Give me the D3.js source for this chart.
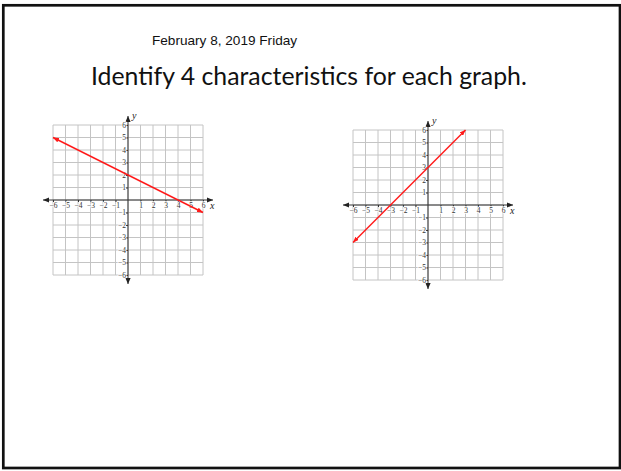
<!DOCTYPE html>
<html>
<head>
<meta charset="utf-8">
<script src="https://cdn.jsdelivr.net/npm/d3@7"></script>
<style>
  body { margin: 0; background: #fff; }
</style>
</head>
<body>
<div id="slide"></div>
<script>
var dateText = "February 8, 2019 Friday";
var titleText = "Identify 4 characteristics for each graph.";

// grid lines and tick labels of both coordinate planes
var gridValues = [-6, -5, -4, -3, -2, -1, 0, 1, 2, 3, 4, 5, 6];
var tickValues = [-6, -5, -4, -3, -2, -1, 1, 2, 3, 4, 5, 6];

// the red line segments (end points, with arrows)
var line1 = [{x: -6, y: 5}, {x: 6, y: -1}];
var line2 = [{x: -6, y: -3}, {x: 3, y: 6}];

var width = 621, height = 471;

var svg = d3.select("#slide").append("svg")
    .attr("width", width)
    .attr("height", height);

// slide frame
svg.append("rect")
    .attr("x", 3.3).attr("y", 5.3)
    .attr("width", 616.7).attr("height", 462.7)
    .attr("fill", "none")
    .attr("stroke", "#111")
    .attr("stroke-width", 2.7);

var defs = svg.append("defs");
function addArrow(id, color, len, half) {
  defs.append("marker")
      .attr("id", id)
      .attr("viewBox", "0 0 " + len + " " + (2 * half))
      .attr("refX", len).attr("refY", half)
      .attr("markerUnits", "userSpaceOnUse")
      .attr("markerWidth", len).attr("markerHeight", 2 * half)
      .attr("orient", "auto-start-reverse")
    .append("path")
      .attr("d", "M0,0L" + len + "," + half + "L0," + (2 * half) + "Z")
      .attr("fill", color);
}
addArrow("axisArrow", "#222", 6, 2.6);
addArrow("redArrow", "#ff1a1a", 6, 2.4);

svg.append("text")
    .attr("x", 152).attr("y", 44.5)
    .style("font-family", "'Liberation Sans', Arial, sans-serif")
    .style("font-size", "13.6px")
    .attr("fill", "#111")
    .text(dateText);

var title = svg.append("text")
    .attr("x", 91).attr("y", 85)
    .style("font-family", "Lato, 'Open Sans', sans-serif")
    .style("font-size", "24px")
    .attr("fill", "#111")
    .text(titleText);
// fit the title to the width it has on the slide
var tl = title.node().getComputedTextLength();
title.style("font-size", (24 * 436 / tl) + "px");

function drawGraph(left, top, pts) {
  var size = 150;
  var x = d3.scaleLinear().domain([-6, 6]).range([left, left + size]);
  var y = d3.scaleLinear().domain([-6, 6]).range([top + size, top]);
  var g = svg.append("g");

  g.selectAll(".vgrid")
      .data(gridValues)
    .enter().append("line")
      .attr("class", "vgrid")
      .attr("x1", function(d) { return x(d); })
      .attr("x2", function(d) { return x(d); })
      .attr("y1", y(-6)).attr("y2", y(6))
      .attr("stroke", "#c4c4c4")
      .attr("stroke-width", 1);

  g.selectAll(".hgrid")
      .data(gridValues)
    .enter().append("line")
      .attr("class", "hgrid")
      .attr("y1", function(d) { return y(d); })
      .attr("y2", function(d) { return y(d); })
      .attr("x1", x(-6)).attr("x2", x(6))
      .attr("stroke", "#c4c4c4")
      .attr("stroke-width", 1);

  // axis lines with arrows
  g.append("line")
      .attr("x1", x(-6) - 10).attr("x2", x(6) + 10)
      .attr("y1", y(0)).attr("y2", y(0))
      .attr("stroke", "#333").attr("stroke-width", 1)
      .attr("marker-start", "url(#axisArrow)")
      .attr("marker-end", "url(#axisArrow)");
  g.append("line")
      .attr("x1", x(0)).attr("x2", x(0))
      .attr("y1", y(6) - 9).attr("y2", y(-6) + 9)
      .attr("stroke", "#333").attr("stroke-width", 1)
      .attr("marker-start", "url(#axisArrow)")
      .attr("marker-end", "url(#axisArrow)");

  var xAxis = d3.axisBottom(x).tickValues(tickValues).tickSize(2).tickPadding(1);
  var yAxis = d3.axisLeft(y).tickValues(tickValues).tickSize(2).tickPadding(0);

  var ax = g.append("g")
      .attr("transform", "translate(0," + y(0) + ")")
      .call(xAxis);
  var ay = g.append("g")
      .attr("transform", "translate(" + x(0) + ",0)")
      .call(yAxis);

  [ax, ay].forEach(function(a) {
    a.select(".domain").remove();
    a.selectAll(".tick line").attr("stroke", "#333");
    a.selectAll(".tick text")
        .style("font-family", "'Liberation Serif', 'Times New Roman', serif")
        .style("font-size", "7.5px")
        .attr("fill", "#333")
        .attr("stroke", "#fff")
        .attr("stroke-width", 1.5)
        .attr("paint-order", "stroke");
  });

  g.append("text")
      .attr("x", x(6) + 7).attr("y", y(0) + 9)
      .style("font-family", "'Liberation Serif', serif")
      .style("font-style", "italic")
      .style("font-size", "10px")
      .attr("fill", "#222")
      .text("x");
  g.append("text")
      .attr("x", x(0) + 4).attr("y", y(6) - 6)
      .style("font-family", "'Liberation Serif', serif")
      .style("font-style", "italic")
      .style("font-size", "10px")
      .attr("fill", "#222")
      .text("y");

  var line = d3.line()
      .x(function(d) { return x(d.x); })
      .y(function(d) { return y(d.y); });

  g.append("path")
      .datum(pts)
      .attr("d", line)
      .attr("fill", "none")
      .attr("stroke", "#ff1a1a")
      .attr("stroke-width", 1.4)
      .attr("marker-start", "url(#redArrow)")
      .attr("marker-end", "url(#redArrow)");
}

drawGraph(53, 125, line1);
drawGraph(353, 130, line2);
</script>
</body>
</html>
